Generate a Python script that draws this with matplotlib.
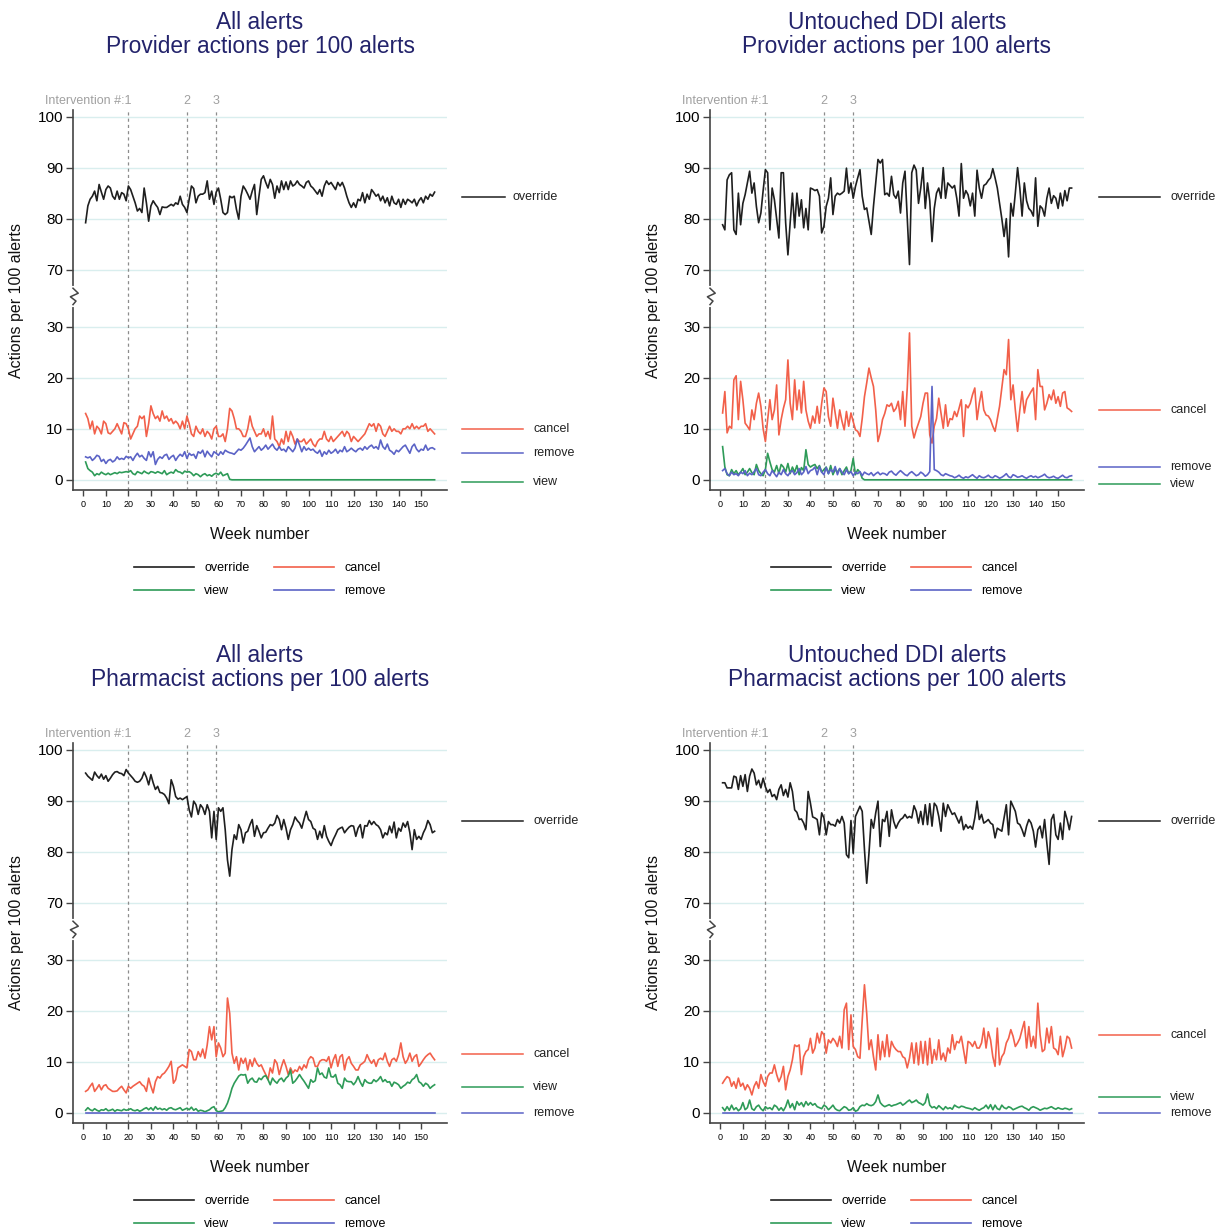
import numpy as np
import matplotlib.pyplot as plt

plt.rcParams['font.family'] = ['Liberation Sans', 'DejaVu Sans']

# ---- data (actions per 100 alerts, one value per week) ----

prov_all_override = [
    79.2, 82.5, 83.8, 84.4, 85.4, 83.5, 86.7, 85.2, 83.8, 85.7,
    86.4, 86.0, 84.4, 83.8, 85.4, 83.8, 85.1, 84.8, 83.5, 86.4,
    85.7, 84.4, 83.1, 81.5, 82.0, 81.2, 86.0, 83.1, 79.5, 82.5,
    83.5, 82.8, 82.2, 80.8, 82.3, 82.2, 82.2, 82.5, 82.8, 82.5,
    83.1, 82.8, 84.4, 82.8, 82.2, 81.2, 83.8, 86.4, 85.9, 83.1,
    84.4, 84.8, 84.8, 85.1, 87.4, 83.8, 85.4, 82.8, 85.2, 86.0,
    83.8, 81.2, 80.8, 81.2, 84.4, 84.1, 84.4, 81.8, 79.9, 84.4,
    86.4, 85.7, 84.8, 83.8, 85.4, 86.7, 80.8, 84.4, 87.7, 88.4,
    87.1, 86.0, 87.7, 86.7, 84.0, 86.4, 85.1, 87.4, 85.7, 87.2,
    85.7, 87.4, 86.4, 86.7, 87.4, 86.7, 86.4, 86.0, 87.1, 87.4,
    86.4, 86.0, 85.4, 84.8, 85.7, 84.4, 86.4, 87.4, 86.7, 87.1,
    86.4, 85.7, 87.1, 86.4, 87.1, 86.0, 84.4, 83.1, 82.2, 83.1,
    82.2, 83.8, 83.5, 85.1, 83.1, 84.8, 83.8, 85.7, 85.1, 84.4,
    84.8, 83.5, 84.4, 83.1, 84.1, 82.5, 84.4, 83.1, 82.8, 83.8,
    82.2, 83.8, 82.8, 83.8, 83.5, 83.1, 83.8, 82.5, 83.5, 84.1,
    83.1, 84.4, 83.8, 84.8, 84.4, 85.2]
prov_all_cancel = [
    13.0, 12.0, 10.0, 11.5, 9.0, 10.5, 10.0, 9.0, 11.5, 11.0,
    9.2, 9.0, 9.5, 10.0, 11.0, 10.0, 9.0, 11.2, 11.0, 10.0,
    8.0, 9.0, 10.0, 10.5, 12.5, 12.0, 12.5, 8.5, 11.0, 14.5,
    13.0, 12.0, 12.5, 11.5, 13.5, 12.0, 12.5, 11.5, 12.0, 11.0,
    11.5, 11.0, 10.0, 11.5, 10.0, 12.5, 11.0, 9.0, 8.5, 10.5,
    9.5, 9.0, 10.0, 8.5, 9.5, 9.0, 8.0, 10.0, 10.5, 8.5,
    8.5, 9.0, 7.5, 10.0, 14.0, 13.5, 12.0, 10.0, 10.0, 9.5,
    8.5, 8.5, 10.0, 12.5, 10.5, 9.5, 8.5, 9.0, 9.0, 10.0,
    8.5, 9.5, 8.0, 12.5, 8.0, 7.5, 6.5, 8.0, 7.0, 9.5,
    7.5, 9.5, 8.5, 7.0, 8.0, 7.5, 7.5, 8.0, 7.0, 7.5,
    8.0, 7.0, 6.5, 7.5, 8.0, 8.0, 9.5, 8.0, 7.5, 8.5,
    7.5, 8.0, 8.5, 9.0, 9.5, 8.5, 9.5, 9.0, 7.5, 8.5,
    8.0, 7.5, 8.0, 8.5, 9.0, 10.0, 11.0, 10.5, 11.0, 9.5,
    11.0, 10.5, 9.0, 8.5, 9.5, 10.5, 9.5, 10.0, 9.5, 9.5,
    9.0, 10.0, 10.0, 10.5, 10.0, 11.0, 10.0, 10.5, 10.0, 10.5,
    10.5, 11.0, 9.5, 10.0, 9.5, 9.0]
prov_all_remove = [
    4.5, 4.3, 4.5, 3.8, 4.2, 4.8, 4.6, 3.6, 4.0, 3.2,
    3.8, 4.0, 3.5, 3.8, 4.5, 4.0, 4.2, 4.0, 4.6, 4.3,
    4.5, 3.8, 4.6, 5.2, 4.5, 4.8, 4.2, 3.8, 5.5, 4.5,
    5.5, 3.0, 4.0, 4.5, 4.2, 4.8, 5.0, 4.0, 4.5, 4.8,
    3.8, 4.5, 5.0, 4.6, 5.5, 4.2, 5.2, 4.8, 5.0, 4.2,
    5.5, 5.2, 5.8, 4.5, 5.6, 5.0, 4.5, 5.5, 5.2, 4.8,
    5.5, 5.0, 5.8, 5.5, 5.3, 5.2, 5.0, 5.5, 6.0, 5.8,
    6.2, 6.8, 7.5, 8.2, 6.5, 5.5, 6.0, 6.5, 5.8, 6.2,
    6.8, 6.0, 6.5, 7.0, 6.2, 5.8, 6.5, 5.8, 6.0, 5.5,
    6.5, 6.0, 5.5, 6.2, 8.0, 6.8, 5.5, 6.5, 5.8, 6.2,
    5.8, 6.0, 5.5, 5.2, 5.8, 4.6, 5.5, 5.0, 5.8, 5.2,
    5.5, 6.0, 5.2, 5.8, 5.5, 6.5, 5.5, 5.8, 6.2, 5.8,
    5.5, 6.0, 6.2, 5.8, 6.5, 6.0, 6.5, 6.8, 6.2, 6.5,
    6.0, 7.8, 6.5, 6.0, 7.0, 5.8, 5.5, 5.0, 5.8, 5.5,
    6.0, 6.5, 6.8, 6.0, 5.2, 6.5, 7.0, 6.0, 5.5, 6.0,
    5.8, 6.8, 5.8, 6.2, 6.3, 6.0]
prov_all_view = [
    3.5, 2.2, 1.8, 1.5, 0.8, 1.2, 1.0, 1.5, 1.2, 1.0,
    1.3, 1.0, 1.2, 1.4, 1.2, 1.5, 1.4, 1.5, 1.6, 1.5,
    1.8, 1.2, 1.0, 1.6, 1.4, 1.2, 1.7, 1.4, 1.2, 1.6,
    1.5, 1.3, 1.6, 1.4, 1.2, 1.8, 1.0, 1.3, 1.5, 1.3,
    2.0, 1.6, 1.5, 1.2, 1.7, 1.5, 1.6, 1.3, 0.8, 1.2,
    1.0, 0.6, 1.0, 1.2, 0.8, 1.0, 0.7, 1.1, 1.3, 1.0,
    1.5, 0.8, 1.0, 1.2, 0.1, 0, 0, 0, 0, 0,
    0, 0, 0, 0, 0, 0, 0, 0, 0, 0,
    0, 0, 0, 0, 0, 0, 0, 0, 0, 0,
    0, 0, 0, 0, 0, 0, 0, 0, 0, 0,
    0, 0, 0, 0, 0, 0, 0, 0, 0, 0,
    0, 0, 0, 0, 0, 0, 0, 0, 0, 0,
    0, 0, 0, 0, 0, 0, 0, 0, 0, 0,
    0, 0, 0, 0, 0, 0, 0, 0, 0, 0,
    0, 0, 0, 0, 0, 0, 0, 0, 0, 0,
    0, 0, 0, 0, 0, 0]

prov_ddi_override = [
    78.8, 77.8, 87.6, 88.6, 89.0, 77.8, 76.9, 85.0, 78.8, 83.0,
    84.7, 87.0, 89.3, 85.0, 87.0, 82.4, 79.2, 81.1, 85.5, 89.6,
    89.0, 77.8, 86.0, 83.7, 80.0, 76.2, 89.0, 89.0, 79.2, 72.9,
    79.2, 85.0, 78.2, 85.0, 80.5, 83.7, 78.2, 82.0, 77.8, 86.0,
    85.8,
    85.5, 85.7, 84.4, 77.2, 78.5, 82.4, 84.0, 88.0, 80.8, 84.4,
    85.0, 84.7, 85.0, 85.4, 89.9, 85.0, 87.0, 84.0, 86.3, 88.0,
    89.6, 84.4, 81.8, 82.1, 79.5, 76.9, 82.4, 87.0, 91.6, 90.9,
    91.6, 84.7, 85.0, 84.4, 88.3, 84.7, 84.0, 85.4, 81.1, 87.0,
    89.3, 80.0, 71.0, 89.0, 90.5, 89.5, 83.0, 86.0, 90.0, 82.0,
    87.0, 83.5, 75.5, 82.0, 85.0, 86.0, 84.0, 90.0, 84.0, 87.0,
    86.5,
    86.0, 86.5, 84.0, 80.5, 90.8, 84.0, 85.5, 84.7, 82.5, 85.0,
    80.5, 89.5, 86.0, 84.0, 86.5, 86.8, 87.5, 88.0, 89.8, 88.0,
    86.0, 83.0, 80.0, 76.5, 80.0, 72.5, 83.0, 80.5, 85.0, 90.0,
    86.0, 80.5, 87.0, 83.5, 82.0, 81.5, 80.5, 88.0, 78.5, 82.5,
    82.0, 80.5, 84.0, 86.0, 83.0, 84.5, 84.0, 82.0, 85.0, 82.5,
    85.5, 83.5, 86.0, 86.0]
prov_ddi_cancel = [
    13.1, 17.3, 9.2, 10.5, 10.1, 19.6, 20.4, 11.8, 19.3, 15.7,
    11.1, 10.5, 9.8, 13.7, 11.8, 15.0, 17.0, 14.4, 10.0, 7.5,
    11.8, 15.7, 11.8, 13.7, 18.6, 8.8, 11.8, 14.0, 15.7, 23.5,
    15.0, 11.8, 19.6, 13.7, 17.6, 13.1, 19.3, 13.7, 11.5, 10.1,
    12.5,
    11.1, 14.4, 11.1, 15.0, 18.0, 17.3, 12.4, 10.5, 16.0, 13.1,
    10.1, 13.7, 11.5, 9.8, 13.4, 10.5, 13.1, 11.4, 9.8, 9.5,
    8.5, 12.0, 16.3, 19.0, 21.9, 20.0, 18.3, 13.7, 7.5, 9.2,
    11.8, 13.0, 14.7, 14.4, 15.0, 13.4, 14.0, 15.4, 11.8, 17.3,
    10.5, 18.0, 28.8, 10.5, 8.2, 9.8, 11.1, 12.4, 15.0, 17.0,
    17.0, 8.8, 7.2, 10.5, 12.0, 16.0, 13.1, 10.1, 14.7, 10.5,
    12.0,
    11.8, 13.4, 12.4, 14.0, 15.7, 8.5, 14.7, 14.1, 15.0, 16.7,
    18.0, 11.8, 15.0, 17.3, 13.7, 12.7, 12.5, 11.8, 10.5, 9.5,
    12.0, 14.4, 18.0, 21.6, 20.6, 27.5, 15.7, 18.6, 13.7, 9.5,
    13.7, 17.3, 13.1, 15.7, 16.5, 17.3, 18.0, 11.8, 21.6, 18.3,
    18.3, 13.7, 15.0, 16.7, 15.7, 17.6, 15.0, 16.3, 14.4, 17.0,
    17.3, 14.1, 13.8, 13.4]
prov_ddi_remove = [
    1.8, 2.2, 1.2, 0.8, 1.5, 1.0, 1.2, 0.8, 1.5, 1.2,
    1.8, 0.8, 1.3, 1.0, 1.6, 2.2, 1.0, 0.8, 1.5, 2.0,
    1.2, 0.8, 1.8, 1.2, 0.6, 1.5, 1.0, 2.0, 1.2, 0.8,
    1.5, 1.8, 1.0, 1.4, 2.2, 1.0, 1.5, 2.6, 1.2, 1.8,
    2.0,
    2.5, 1.0, 2.6, 1.5, 1.0, 2.4, 1.2, 2.0, 1.5, 2.6,
    1.0, 2.2, 1.5, 1.0, 2.0, 1.2, 1.6, 0.8, 1.5, 1.2,
    1.6, 0.8, 1.5, 1.2, 1.0, 1.4, 0.8, 1.2, 1.5, 1.0,
    1.3, 1.2, 0.9, 1.5, 1.7, 1.2, 0.9, 1.4, 1.8, 1.4,
    1.0, 0.8, 1.3, 1.6, 1.2, 0.8, 1.0, 1.5, 1.2, 0.7,
    1.0, 1.6, 18.3, 2.0, 1.8, 1.5, 1.0, 0.8, 1.2, 1.0,
    0.8,
    0.7, 0.4, 0.6, 0.9, 0.5, 0.3, 0.6, 0.4, 0.7, 1.0,
    0.6, 0.3, 0.8, 0.5, 0.4, 0.6, 0.9, 0.5, 0.4, 0.8,
    0.6, 0.3, 0.5, 0.8, 1.2, 0.6, 0.4, 1.0, 0.8, 0.5,
    0.6, 0.8, 0.5, 0.3, 0.6, 0.8, 0.5, 0.7, 0.4, 0.6,
    0.8, 1.1, 0.6, 0.4, 0.5, 0.7, 0.4, 0.3, 0.6, 0.9,
    0.5, 0.4, 0.7, 0.8]
prov_ddi_view = [
    6.5, 2.5, 1.0, 0.8, 2.0, 1.2, 1.8, 1.0, 1.5, 2.2,
    1.0, 1.5, 2.2, 1.4, 1.0, 3.0, 1.8, 1.2, 0.8, 2.0,
    5.2, 3.5, 2.0, 1.5, 2.8, 1.2, 3.0, 2.5, 1.5, 3.2,
    1.2, 2.5, 1.5, 2.8, 1.0, 2.4, 1.8, 5.9, 3.0, 2.5,
    2.8, 3.0, 2.2, 2.8, 1.5, 2.0, 2.5, 1.2, 2.8, 1.0,
    2.0, 1.5, 2.2, 1.0, 1.8, 2.5, 1.2, 1.8, 4.2, 1.0,
    2.0, 1.5, 0.3, 0, 0, 0, 0, 0, 0, 0,
    0, 0, 0, 0, 0, 0, 0, 0, 0, 0,
    0, 0, 0, 0, 0, 0, 0, 0, 0, 0,
    0, 0, 0, 0, 0, 0, 0, 0, 0, 0,
    0, 0, 0, 0, 0, 0, 0, 0, 0, 0,
    0, 0, 0, 0, 0, 0, 0, 0, 0, 0,
    0, 0, 0, 0, 0, 0, 0, 0, 0, 0,
    0, 0, 0, 0, 0, 0, 0, 0, 0, 0,
    0, 0, 0, 0, 0, 0, 0, 0, 0, 0,
    0, 0, 0, 0, 0, 0]

pharm_all_override = [
    95.4, 94.8, 94.4, 94.0, 95.6, 94.9, 94.4, 95.2, 94.2, 94.9,
    93.8, 94.4, 95.1, 95.6, 95.7, 95.4, 95.3, 94.9, 96.1, 95.4,
    94.9, 94.4, 93.8, 93.6, 93.8, 94.4, 95.6, 94.6, 93.1, 95.1,
    93.5, 92.2, 92.8, 91.6, 91.5, 91.2, 90.5, 89.4, 94.1, 92.8,
    90.8, 90.3, 90.5, 90.2, 90.5, 90.8, 88.2, 86.8, 89.9, 89.2,
    87.3, 89.2, 88.6, 87.3, 89.2, 87.9, 82.7, 87.9, 82.4, 88.6,
    87.9, 88.6, 84.3, 78.4, 75.2, 80.4, 83.3, 82.4, 85.3, 84.3,
    81.7, 83.7, 84.0, 85.3, 86.3, 83.0, 85.1, 84.0, 82.7, 83.7,
    83.8, 84.6, 85.3, 85.1, 85.6, 87.1, 86.3, 84.3, 86.3, 84.6,
    82.4, 84.3, 85.3, 86.8, 86.1, 85.6, 84.6, 86.3, 87.9, 86.3,
    85.9, 84.6, 84.3, 82.4, 84.0, 82.7, 85.1, 83.0, 82.0, 81.2,
    82.4, 83.3, 84.3, 84.6, 84.8, 83.7, 84.3, 84.8, 85.1, 85.0,
    83.0, 84.6, 85.3, 82.7, 85.1, 85.0, 86.1, 85.3, 85.9, 85.3,
    85.0, 84.3, 82.7, 83.7, 83.3, 85.0, 83.7, 85.8, 82.7, 84.6,
    84.0, 85.6, 84.8, 85.9, 83.7, 80.4, 84.3, 82.4, 83.0, 82.4,
    83.7, 84.6, 86.1, 85.3, 83.7, 84.0]
pharm_all_cancel = [
    4.2, 4.5, 5.2, 5.8, 4.2, 4.8, 5.5, 4.5, 5.3, 5.5,
    4.8, 4.5, 4.2, 4.2, 4.3, 4.8, 5.2, 4.5, 3.9, 5.2,
    4.8, 5.2, 5.5, 5.8, 6.1, 5.5, 5.2, 4.2, 6.8, 5.2,
    3.9, 6.1, 7.1, 6.8, 7.5, 7.8, 8.4, 9.1, 10.1, 5.8,
    6.5, 8.8, 9.1, 9.4, 9.1, 8.8, 12.4, 12.0, 10.4, 10.4,
    12.0, 11.0, 12.5, 10.7, 13.3, 16.9, 14.3, 16.9, 11.0, 13.7,
    12.7, 11.0, 11.7, 22.5, 19.5, 11.7, 9.7, 11.0, 8.4, 10.7,
    9.7, 10.7, 8.4, 10.4, 9.1, 10.7, 9.7, 9.1, 9.4, 8.4,
    7.5, 6.5, 8.8, 7.8, 10.4, 9.7, 7.5, 9.1, 10.4, 9.1,
    7.5, 8.8, 7.8, 8.4, 8.1, 9.1, 8.4, 9.4, 8.8, 10.4,
    11.0, 10.7, 9.1, 9.1, 10.1, 10.4, 10.4, 10.1, 11.0, 8.8,
    10.4, 11.4, 9.1, 11.0, 11.4, 8.4, 10.4, 11.0, 9.7, 9.1,
    8.4, 8.4, 9.4, 9.7, 10.1, 11.4, 10.4, 9.7, 10.4, 9.1,
    10.4, 10.7, 10.4, 11.7, 10.1, 9.1, 10.4, 10.7, 10.1, 11.4,
    13.7, 11.0, 9.7, 10.4, 11.7, 10.1, 11.0, 11.4, 9.1, 9.7,
    10.4, 11.0, 11.4, 11.7, 11.0, 10.4]
pharm_all_view = [
    0.5, 1.0, 0.6, 0.4, 0.8, 0.5, 0.3, 0.6, 0.5, 0.8,
    0.4, 0.5, 0.7, 0.3, 0.6, 0.5, 0.4, 0.7, 0.5, 0.6,
    0.8, 0.5, 0.4, 0.6, 0.3, 0.5, 0.8, 1.0, 0.6, 1.0,
    0.5, 1.2, 0.7, 0.9, 0.6, 0.8, 0.5, 0.9, 1.0, 0.7,
    0.6, 0.8, 1.0, 0.5, 0.7, 0.9, 0.6, 1.1, 0.5, 0.8,
    0.3, 0.5, 0.4, 0.2, 0.4, 0.6, 1.0, 1.2, 0.4, 0.2,
    0.3, 0.4, 1.0, 1.9, 3.2, 4.8, 5.8, 6.5, 7.2, 7.5,
    7.4, 7.5, 5.8, 6.5, 6.8, 6.1, 6.0, 6.8, 6.5, 7.1,
    7.3, 6.5, 5.5, 6.8, 6.2, 5.8, 6.5, 6.8, 6.1, 6.8,
    7.2, 8.4, 5.8, 6.2, 6.8, 7.5, 6.8, 6.2, 5.5, 4.8,
    6.5, 6.0, 6.3, 8.8, 7.5, 7.8, 7.0, 6.8, 8.8, 7.1,
    7.0, 7.5, 5.8, 5.5, 4.8, 6.8, 6.2, 6.1, 6.1, 5.5,
    6.1, 7.1, 6.0, 5.2, 6.5, 6.0, 5.8, 5.8, 6.5, 6.1,
    6.5, 7.1, 6.1, 6.5, 6.0, 6.1, 5.2, 6.0, 5.8, 5.5,
    4.8, 5.2, 5.5, 6.0, 5.8, 6.5, 6.8, 7.5, 6.1, 5.8,
    5.2, 5.8, 5.5, 4.8, 5.2, 5.5]
pharm_all_remove = [
    0, 0, 0, 0, 0, 0, 0, 0, 0, 0, 0, 0, 0, 0, 0, 0, 0, 0, 0, 0,
    0, 0, 0, 0, 0, 0, 0, 0, 0, 0, 0, 0, 0, 0, 0, 0, 0, 0, 0, 0,
    0, 0, 0, 0, 0, 0, 0, 0, 0, 0, 0, 0, 0, 0, 0, 0, 0, 0, 0, 0,
    0, 0, 0, 0, 0, 0, 0, 0, 0, 0, 0, 0, 0, 0, 0, 0, 0, 0, 0, 0,
    0, 0, 0, 0, 0, 0, 0, 0, 0, 0, 0, 0, 0, 0, 0, 0, 0, 0, 0, 0,
    0, 0, 0, 0, 0, 0, 0, 0, 0, 0, 0, 0, 0, 0, 0, 0, 0, 0, 0, 0,
    0, 0, 0, 0, 0, 0, 0, 0, 0, 0, 0, 0, 0, 0, 0, 0, 0, 0, 0, 0,
    0, 0, 0, 0, 0, 0, 0, 0, 0, 0, 0, 0, 0, 0, 0, 0]

pharm_ddi_override = [
    93.5, 93.5, 92.5, 92.5, 92.5, 94.8, 94.6, 92.2, 94.9, 92.8,
    95.1, 91.8, 94.8, 96.2, 95.4, 93.1, 94.0, 92.5, 94.4, 92.7,
    91.6, 92.2, 90.8, 91.2, 90.2, 92.2, 93.1, 91.0, 92.2, 90.7,
    93.5, 91.8, 88.2, 87.7, 86.3, 86.4, 85.6, 84.3, 91.8, 89.5,
    86.8, 86.6, 86.3, 83.3, 87.6, 86.6, 83.3, 85.9, 85.3, 85.3,
    85.0, 86.3, 85.6, 86.9, 85.6, 79.4, 78.8, 86.1, 79.7, 86.9,
    87.9, 88.9, 87.9, 80.4, 73.8, 79.7, 86.3, 84.6, 87.6, 89.9,
    81.0, 86.3, 85.9, 87.9, 83.0, 88.2, 85.9, 84.6, 85.6, 86.3,
    86.6, 87.3, 86.6, 86.9, 86.6, 89.0, 87.9, 85.6, 87.9, 85.3,
    89.2, 85.3, 89.4, 85.0, 89.5, 88.9, 86.9, 84.0, 89.5, 86.9,
    89.2, 88.2, 87.3, 87.6, 86.6, 85.6, 86.9, 84.3, 85.3, 84.6,
    85.0, 84.4, 86.6, 89.9, 86.3, 87.3, 85.6, 85.9, 86.3, 85.6,
    85.3, 82.7, 84.6, 84.3, 84.0, 86.6, 89.2, 83.3, 89.9, 88.9,
    87.9, 85.6, 85.3, 84.3, 83.0, 85.0, 86.3, 85.6, 84.0, 80.9,
    84.3, 85.0, 82.7, 86.3, 81.7, 77.5, 86.3, 87.3, 83.3, 82.4,
    85.6, 82.4, 87.9, 86.3, 84.3, 86.9]
pharm_ddi_cancel = [
    5.8, 6.5, 7.1, 6.8, 5.2, 6.1, 4.8, 6.8, 5.2, 5.8,
    4.5, 5.5, 4.8, 3.5, 5.2, 6.1, 4.8, 7.5, 6.1, 5.2,
    7.1, 7.8, 7.8, 9.4, 7.5, 6.1, 7.1, 9.1, 4.5, 7.1,
    8.4, 10.4, 13.3, 13.0, 13.3, 7.5, 11.0, 12.0, 12.4, 14.6,
    11.7, 12.7, 15.6, 13.7, 15.9, 15.3, 11.7, 14.3, 13.7, 14.6,
    14.0, 13.0, 15.0, 12.7, 20.2, 21.5, 12.4, 19.2, 13.0, 12.4,
    11.0, 10.7, 18.2, 25.1, 19.5, 12.4, 14.3, 11.0, 8.4, 15.3,
    10.4, 14.0, 11.0, 15.3, 11.0, 14.0, 13.0, 12.4, 12.0, 12.0,
    11.0, 10.7, 8.8, 10.7, 13.7, 9.7, 13.7, 9.4, 14.0, 9.7,
    14.0, 9.4, 14.6, 9.7, 12.4, 10.4, 14.3, 10.4, 11.7, 10.1,
    12.7, 11.7, 15.3, 12.4, 14.0, 13.7, 15.0, 12.4, 9.7, 14.0,
    13.7, 13.0, 14.0, 12.7, 12.7, 13.7, 16.6, 12.7, 15.9, 14.3,
    11.0, 9.1, 16.6, 9.4, 11.0, 11.7, 13.7, 14.6, 16.3, 15.0,
    13.0, 13.7, 14.6, 16.3, 17.9, 12.7, 16.9, 13.0, 15.0, 12.7,
    21.5, 15.3, 12.0, 12.4, 16.6, 13.7, 16.9, 12.7, 12.4, 11.4,
    15.0, 11.0, 12.7, 15.0, 14.6, 12.7]
pharm_ddi_view = [
    1.0, 0.4, 1.2, 0.5, 1.5, 0.6, 1.0, 0.4, 0.8, 2.0,
    0.6, 1.0, 2.5, 0.8, 0.5, 1.2, 1.5, 0.8, 0.4, 1.2,
    0.8, 1.0, 0.6, 1.5, 1.2, 0.5, 1.0, 0.4, 1.2, 2.5,
    1.0, 1.8, 0.6, 2.2, 1.5, 2.0, 1.2, 2.2, 1.5, 2.0,
    1.5, 1.8, 1.2, 1.0, 0.8, 1.5, 1.2, 0.6, 1.0, 1.5,
    0.8, 0.5, 0.4, 0.8, 1.2, 1.0, 0.5, 0.6, 1.0, 0.3,
    0.5, 1.2, 1.5, 1.4, 1.8, 1.5, 1.4, 1.6, 2.2, 3.5,
    2.0, 1.5, 1.2, 1.4, 1.6, 1.3, 1.5, 1.6, 1.8, 2.0,
    1.5, 1.8, 2.2, 2.5, 2.0, 2.2, 2.5, 2.0, 1.8, 1.5,
    2.0, 3.7, 1.5, 1.0, 1.2, 0.8, 1.4, 1.0, 0.6, 1.2,
    0.8, 1.0, 0.7, 1.5, 1.2, 1.0, 1.3, 1.2, 1.0, 0.9,
    0.8, 0.6, 1.0, 0.7, 0.5, 0.8, 1.0, 1.5, 0.8, 1.6,
    0.6, 1.5, 0.8, 0.6, 1.5, 1.0, 0.8, 1.2, 1.0, 0.6,
    0.8, 1.0, 1.2, 1.3, 1.0, 0.8, 0.5, 1.0, 1.2, 1.0,
    0.8, 0.5, 0.7, 0.9, 0.8, 1.0, 1.2, 0.9, 0.7, 1.0,
    0.8, 0.7, 0.9, 0.8, 0.6, 0.8]
pharm_ddi_remove = [
    0, 0, 0, 0, 0, 0, 0, 0, 0, 0, 0, 0, 0, 0, 0, 0, 0, 0, 0, 0,
    0, 0, 0, 0, 0, 0, 0, 0, 0, 0, 0, 0, 0, 0, 0, 0, 0, 0, 0, 0,
    0, 0, 0, 0, 0, 0, 0, 0, 0, 0, 0, 0, 0, 0, 0, 0, 0, 0, 0, 0,
    0, 0, 0, 0, 0, 0, 0, 0, 0, 0, 0, 0, 0, 0, 0, 0, 0, 0, 0, 0,
    0, 0, 0, 0, 0, 0, 0, 0, 0, 0, 0, 0, 0, 0, 0, 0, 0, 0, 0, 0,
    0, 0, 0, 0, 0, 0, 0, 0, 0, 0, 0, 0, 0, 0, 0, 0, 0, 0, 0, 0,
    0, 0, 0, 0, 0, 0, 0, 0, 0, 0, 0, 0, 0, 0, 0, 0, 0, 0, 0, 0,
    0, 0, 0, 0, 0, 0, 0, 0, 0, 0, 0, 0, 0, 0, 0, 0]

titles = ["All alerts\nProvider actions per 100 alerts",
          "Untouched DDI alerts\nProvider actions per 100 alerts",
          "All alerts\nPharmacist actions per 100 alerts",
          "Untouched DDI alerts\nPharmacist actions per 100 alerts"]
interventions = [20, 46, 59]
y_ticks = [0, 10, 20, 30, 70, 80, 90, 100]
x_ticks = list(range(0, 151, 10))

colors = {'override': '#1f1f1f', 'cancel': '#f2604a',
          'view': '#2e9b58', 'remove': '#5b63c6'}

panels = [
    {'override': prov_all_override, 'cancel': prov_all_cancel,
     'view': prov_all_view, 'remove': prov_all_remove},
    {'override': prov_ddi_override, 'cancel': prov_ddi_cancel,
     'view': prov_ddi_view, 'remove': prov_ddi_remove},
    {'override': pharm_all_override, 'cancel': pharm_all_cancel,
     'view': pharm_all_view, 'remove': pharm_all_remove},
    {'override': pharm_ddi_override, 'cancel': pharm_ddi_cancel,
     'view': pharm_ddi_view, 'remove': pharm_ddi_remove},
]

# where the end-of-line labels sit (y in data units)
end_labels = [
    {'override': 84.3, 'cancel': 10.0, 'remove': 5.3, 'view': -0.4},
    {'override': 84.3, 'cancel': 13.7, 'remove': 2.5, 'view': -0.9},
    {'override': 86.1, 'cancel': 11.6, 'view': 5.1, 'remove': 0.0},
    {'override': 86.1, 'cancel': 15.3, 'view': 3.1, 'remove': 0.0},
]


# broken y axis: 30..70 squeezed into a short gap
def fwd(v):
    v = np.asarray(v, dtype=float)
    return np.where(v <= 30, v, np.where(v >= 70, v - 28.8, 30 + (v - 30) * 11.2 / 40))


def inv(u):
    u = np.asarray(u, dtype=float)
    return np.where(u <= 30, u, np.where(u >= 41.2, u + 28.8, 30 + (u - 30) * 40 / 11.2))


W, H = 1222, 1229
fig = plt.figure(figsize=(W / 100, H / 100), dpi=100)
boxes = [(73, 110), (710, 110), (73, 743), (710, 743)]
axw, axh = 374, 380
spine_col = '#444444'

for i, data in enumerate(panels):
    left, top = boxes[i]
    ax = fig.add_axes([left / W, 1 - (top + axh) / H, axw / W, axh / H])
    ax.set_yscale('function', functions=(fwd, inv))
    ax.set_ylim(-2, 101.3)
    ax.set_xlim(-4.6, 161.5)
    ax.set_yticks(y_ticks)
    ax.set_xticks(x_ticks)
    ax.set_axisbelow(True)
    ax.grid(axis='y', color='#d9eeee', lw=1.0)
    ax.grid(axis='x', visible=False)
    for s in ['top', 'right']:
        ax.spines[s].set_visible(False)
    for s in ['left', 'bottom']:
        ax.spines[s].set_color(spine_col)
        ax.spines[s].set_linewidth(1.2)
    ax.tick_params(axis='y', labelsize=11, length=5, width=1, color=spine_col, pad=2)
    ax.tick_params(axis='x', labelsize=6.5, length=4, width=1, color=spine_col, pad=3)

    # interventions
    xt = ax.get_xaxis_transform()
    for x in interventions:
        ax.axvline(x, color='#8c8c8c', lw=0.9, ls=(0, (2.5, 2.5)), zorder=1.5)
    ax.text(interventions[0] + 1.5, 1.008, 'Intervention #:1', transform=xt,
            ha='right', va='bottom', fontsize=9, color='#a0a0a0')
    for k, x in enumerate(interventions[1:], start=2):
        ax.text(x, 1.008, str(k), transform=xt, ha='center', va='bottom',
                fontsize=9, color='#a0a0a0')

    lines = {}
    for name in ['override', 'cancel', 'view', 'remove']:
        vals = data[name]
        weeks = np.arange(1, len(vals) + 1)
        lines[name], = ax.plot(weeks, vals, color=colors[name], lw=1.2, zorder=3)

    # axis break squiggle
    yt = ax.get_yaxis_transform()
    ax.plot([0, 0], [45.5, 57], transform=yt, color='white', lw=3,
            clip_on=False, zorder=5)
    ax.plot([0, 0.014, -0.007, 0.008, 0], [57, 53.5, 51, 48, 45.5],
            transform=yt, color=spine_col, lw=1.1, clip_on=False, zorder=6)

    # labels at the right end
    for name, yv in end_labels[i].items():
        x1, xtxt = 1.203, 1.230
        if i == 0 and name == 'override':
            x1, xtxt = 1.155, 1.176
        ax.plot([1.040, x1], [yv, yv], transform=yt, color=colors[name],
                lw=1.1, clip_on=False)
        ax.text(xtxt, yv, name, transform=yt, va='center', fontsize=9,
                color='#222222')

    ax.set_title(titles[i], color='#23236b', fontsize=16.4, pad=41, linespacing=1.05)
    ax.set_xlabel('Week number', fontsize=11.5, labelpad=13, color='#111111')
    ax.set_ylabel('Actions per 100 alerts', fontsize=11.5, labelpad=10, color='#111111')

    order = ['override', 'view', 'cancel', 'remove']
    ax.legend([lines[n] for n in order], order, ncol=2, loc='center',
              bbox_to_anchor=(0.5, -0.236), frameon=False, fontsize=9,
              handlelength=4.8, handletextpad=0.8, columnspacing=2.0,
              labelspacing=0.85)

fig.savefig('out.png', dpi=100, facecolor='white')
